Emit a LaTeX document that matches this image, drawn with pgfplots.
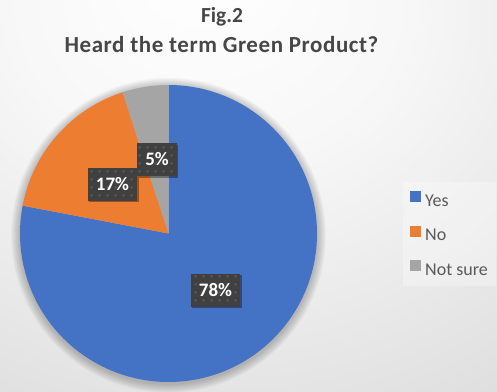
\documentclass[border=0pt]{standalone}
\usepackage{pgfplots}
\usepackage{pgfplotstable}
\pgfplotsset{compat=1.18}
\usepackage{fontspec}
\setmainfont{Carlito}
\usetikzlibrary{patterns.meta,shadows}
\definecolor{yescol}{HTML}{4472C4}
\definecolor{nocol}{HTML}{ED7D31}
\definecolor{nscol}{HTML}{A5A5A5}
\definecolor{titlecol}{HTML}{474747}
\definecolor{legtext}{HTML}{595959}
\definecolor{labelbg}{HTML}{404040}
\definecolor{dotcol}{HTML}{5C5C5C}
\pgfdeclareradialshading{bgshade}{\pgfpoint{-5bp}{30bp}}{color(0bp)=(white); color(20bp)=(black!3); color(50bp)=(black!13); color(75bp)=(black!19); color(100bp)=(black!23)}
\pgfdeclarepattern{name=bigdots, type=uncolored, bottom left={\pgfpoint{0pt}{0pt}}, top right={\pgfpoint{8pt}{8pt}}, tile size={\pgfpoint{8pt}{8pt}}, code={\pgfpathrectangle{\pgfpoint{3pt}{3pt}}{\pgfpoint{2pt}{2pt}}\pgfusepath{fill}}}
\pgfplotstableread{
label value
Yes 78
No 17
{Not sure} 5
}\piedata
\begin{document}
\begin{tikzpicture}[
  lbl/.style={drop shadow={shadow xshift=1.5pt, shadow yshift=-1.5pt, fill=black, opacity=0.35},
    preaction={fill=labelbg}, pattern={bigdots}, pattern color=dotcol,
    text=white, font=\bfseries\fontsize{19}{22}\selectfont,
    inner xsep=8pt, inner ysep=10.5pt, text height=12pt, text depth=0pt}]
\pgfplotstablegetelem{0}{value}\of\piedata \let\vA\pgfplotsretval
\pgfplotstablegetelem{1}{value}\of\piedata \let\vB\pgfplotsretval
\pgfplotstablegetelem{2}{value}\of\piedata \let\vC\pgfplotsretval
\pgfmathsetmacro\aA{90-3.6*\vA}
\pgfmathsetmacro\aB{\aA-3.6*\vB}
\pgfmathsetmacro\aC{\aB-3.6*\vC}
\useasboundingbox (0pt,0pt) rectangle (497pt,391pt);
\shade[shading=bgshade] (0pt,0pt) rectangle (497pt,391pt);
\fill[white, opacity=0.3] (403pt,105pt) rectangle (496pt,209pt);
\node[font=\bfseries\fontsize{21.5}{26}\selectfont, text=titlecol, anchor=base] at (222pt,368pt) {Fig.2};
\node[font=\bfseries\fontsize{23}{27}\selectfont\addfontfeatures{LetterSpace=2.5}, text=titlecol, anchor=base] at (221.5pt,338pt) {Heard the term Green Product?};
\begin{axis}[hide axis, scale only axis, width=297pt, height=297pt,
  xmin=-1, xmax=1, ymin=-1, ymax=1, at={(168.5pt,157.5pt)}, anchor=center, clip=false,
  legend image code/.code={\fill[#1, draw=none] (0pt,0pt) rectangle (11pt,11pt);},
  legend style={at={(1.3132,0.6431)}, anchor=north west, draw=none, fill=none,
    font=\fontsize{18}{21}\selectfont, text=legtext, inner sep=0pt, row sep=15.5pt,
    nodes={inner sep=0pt, text height=12pt, text depth=4pt},
    /tikz/every odd column/.append style={column sep=4pt}},
  legend cell align=left]
\pgfplotsinvokeforeach{1,2,3,4,5,6,7,8,9,10}{
  \fill[black, opacity=0.022] (axis cs:0,-0.012) circle[radius={148.5pt+#1*0.9pt}];
}
\fill[yescol] (axis cs:0,0) -- (axis cs:0,1) arc[start angle=90, end angle=\aA, radius=148.5pt] -- cycle;
\fill[nocol] (axis cs:0,0) -- (axis cs:{cos(\aA)},{sin(\aA)}) arc[start angle=\aA, end angle=\aB, radius=148.5pt] -- cycle;
\fill[nscol] (axis cs:0,0) -- (axis cs:{cos(\aB)},{sin(\aB)}) arc[start angle=\aB, end angle=\aC, radius=148.5pt] -- cycle;
\node[lbl] at (axis cs:0.3165,-0.3838) {78\%};
\node[lbl] at (axis cs:-0.377,0.333) {17\%};
\node[lbl] at (axis cs:-0.0774,0.495) {5\%};
\addlegendimage{fill=yescol}\addlegendentry{Yes}
\addlegendimage{fill=nocol}\addlegendentry{No}
\addlegendimage{fill=nscol}\addlegendentry{Not sure}
\end{axis}
\end{tikzpicture}
\end{document}
